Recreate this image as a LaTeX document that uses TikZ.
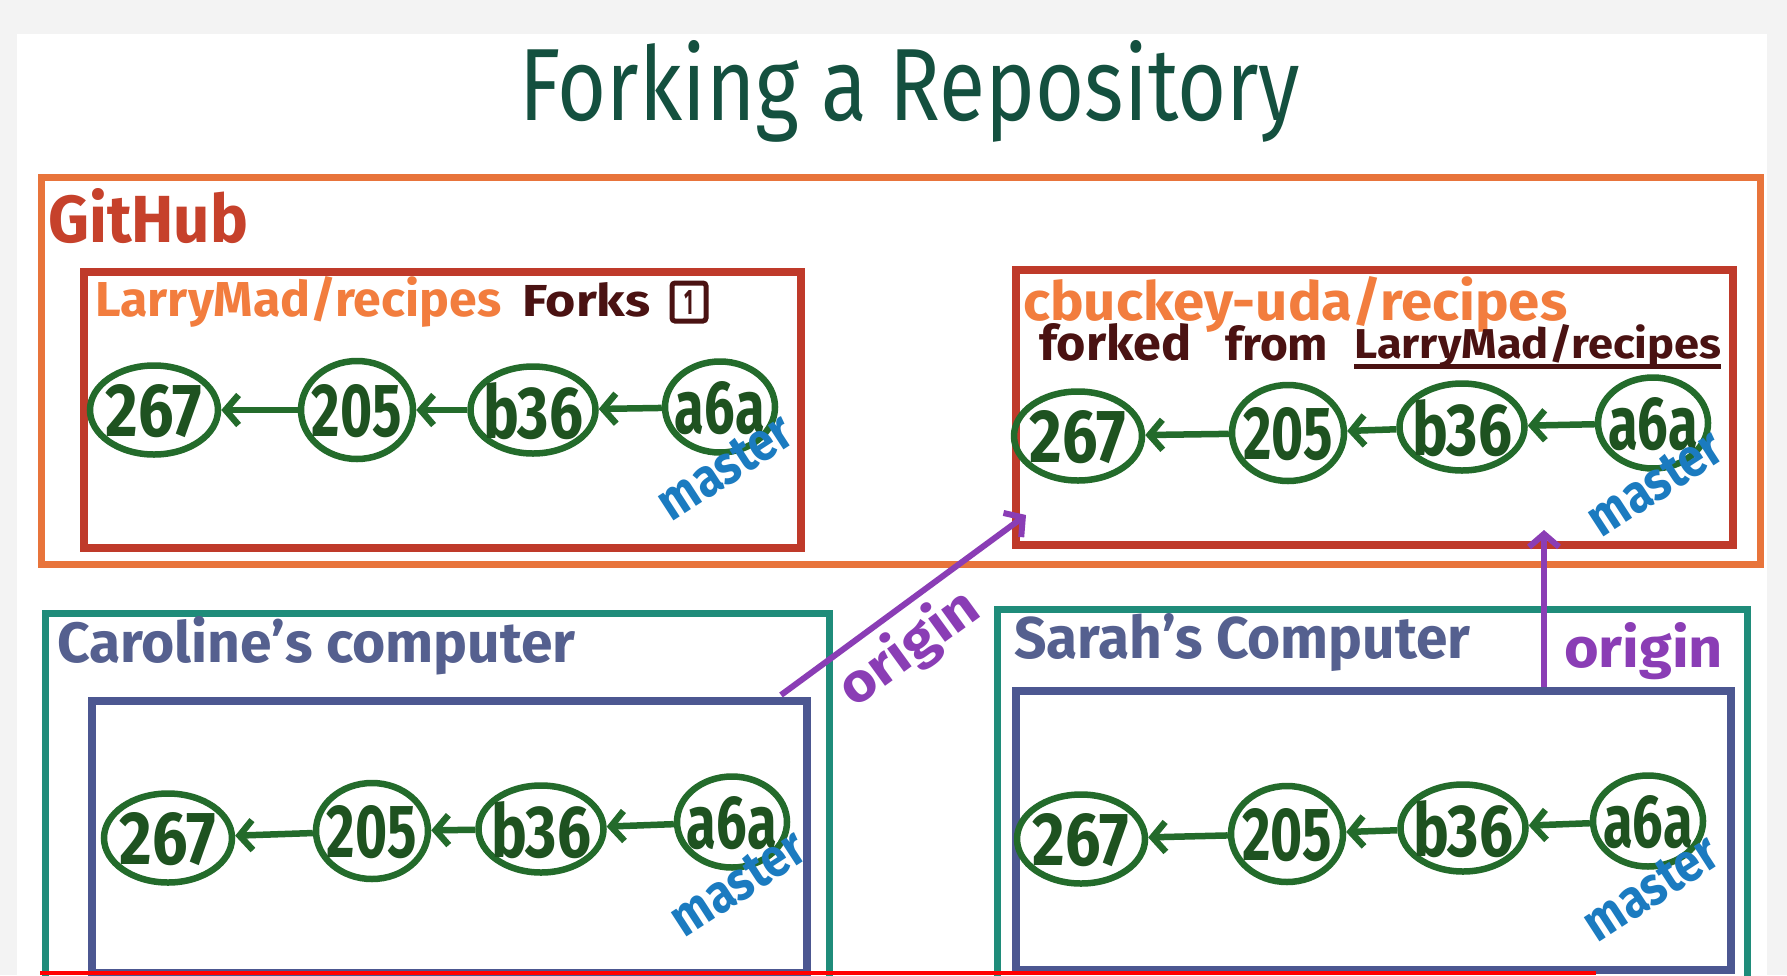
\documentclass[tikz,border=0pt]{standalone}
\usepackage{fontspec}
\setmainfont{Fira Sans}
\usetikzlibrary{shapes.geometric,arrows.meta,calc}
\definecolor{bggray}{HTML}{F3F3F3}
\definecolor{titlecol}{HTML}{14503F}
\definecolor{ghorange}{HTML}{E8743B}
\definecolor{ghtext}{HTML}{C6412B}
\definecolor{repored}{HTML}{BF3A2A}
\definecolor{repotext}{HTML}{F27D3E}
\definecolor{maroon}{HTML}{4A1212}
\definecolor{pcteal}{HTML}{1F8C7A}
\definecolor{slate}{HTML}{4C5791}
\definecolor{slatetext}{HTML}{55608F}
\definecolor{commitgreen}{HTML}{236B2B}
\definecolor{committext}{HTML}{1E5220}
\definecolor{masterblue}{HTML}{1B7BC0}
\definecolor{originpurple}{HTML}{8A3DB5}
\newcommand\fitbox[3]{\resizebox{#1}{#2}{#3}}
\newcommand\ctext[3]{\makebox[0pt]{\smash{\raisebox{-0.5\height}{\resizebox{#1}{#2}{#3}}}}}
\begin{document}
\begin{tikzpicture}[x=1pt,y=-1pt,
  ghbox/.style={draw=ghorange, line width=7pt, inner sep=0pt, anchor=north west},
  repobox/.style={draw=repored, line width=8pt, inner sep=0pt, anchor=north west},
  pcbox/.style={draw=pcteal, line width=7pt, inner sep=0pt, anchor=north west},
  localbox/.style={draw=slate, line width=8pt, inner sep=0pt, anchor=north west},
  lbl/.style={inner sep=0pt, anchor=base west, font=\bfseries},
  commit/.style={ellipse, draw=commitgreen, line width=6.5pt, inner sep=0pt, text=committext, font=\bfseries},
  parent/.style={draw=commitgreen, line width=6.5pt, -{Straight Barb[length=13pt,width=30pt]}},
  masterlbl/.style={inner sep=0pt, text=masterblue, font=\bfseries, rotate=33},
  originarrow/.style={draw=originpurple, line width=6pt, -{Straight Barb[length=13pt,width=30pt]}},
  originlbl/.style={inner sep=0pt, text=originpurple, font=\bfseries}
]
\useasboundingbox (0,0) rectangle (1787,975);
\clip (0,0) rectangle (1787,975);
\fill[bggray] (0,0) rectangle (1787,975);
\fill[white] (17,34) rectangle (1767,975);

% title
\node[inner sep=0pt, anchor=base west, text=titlecol] (title) at (519,120) {\fitbox{781pt}{80pt}{Forking a Repository}};

% GitHub
\node[ghbox, minimum width=1719pt, minimum height=387pt] (github) at (38,174) {};
\node[lbl, text=ghtext] (ghlabel) at (48,242) {\fitbox{200pt}{54pt}{GitHub}};

% LarryMad repo
\node[repobox, minimum width=717pt, minimum height=276pt] (larry) at (80,268) {};
\node[lbl, text=repotext] (larrylabel) at (95,316) {\fitbox{406pt}{40pt}{LarryMad/recipes}};
\node[lbl, text=maroon] (forks) at (522,316) {\fitbox{128pt}{34pt}{Forks}};
\node[draw=maroon, line width=5pt, rounded corners=3pt, minimum width=34pt, minimum height=38pt, inner sep=0pt, text=maroon, font=\bfseries] (forkcount) at (689,302) {\ctext{9pt}{24pt}{1}};

\node[commit, minimum width=128pt, minimum height=89pt] (l267) at (154,410) {\ctext{96pt}{52pt}{267}};
\node[commit, minimum width=112pt, minimum height=98pt] (l205) at (357,410) {\ctext{90pt}{52pt}{205}};
\node[commit, minimum width=125pt, minimum height=87pt] (lb36) at (533,410) {\ctext{100pt}{56pt}{b36}};
\node[commit, minimum width=110pt, minimum height=91pt] (la6a) at (720,407) {\ctext{90pt}{52pt}{a6a}};
\draw[parent] (la6a) -- (lb36);
\draw[parent] (lb36) -- (l205);
\draw[parent] (l205) -- (l267);
\node[masterlbl] (lmaster) at (725,467) {\fitbox{150pt}{36pt}{master}};

% cbuckey repo
\node[repobox, minimum width=717pt, minimum height=275pt] (cbuckey) at (1012,266) {};
\node[lbl, text=repotext] (cblabel) at (1023,320) {\fitbox{544pt}{44pt}{cbuckey-uda/recipes}};
\node[lbl, text=maroon] (forked) at (1039,360) {\fitbox{152pt}{37pt}{forked}};
\node[lbl, text=maroon] (from) at (1225,360) {\fitbox{103pt}{35pt}{from}};
\node[lbl, text=maroon] (larrylink) at (1354,358) {\fitbox{367pt}{34pt}{LarryMad/recipes}};
\draw[maroon, line width=5pt] (larrylink.base west) ++(0,8) -- ($(larrylink.base east)+(0,8)$);

\node[commit, minimum width=128pt, minimum height=89pt] (c267) at (1078,436) {\ctext{96pt}{52pt}{267}};
\node[commit, minimum width=112pt, minimum height=96pt] (c205) at (1288,433) {\ctext{90pt}{52pt}{205}};
\node[commit, minimum width=125pt, minimum height=87pt] (cb36) at (1462,427) {\ctext{100pt}{56pt}{b36}};
\node[commit, minimum width=110pt, minimum height=91pt] (ca6a) at (1653,423) {\ctext{90pt}{52pt}{a6a}};
\draw[parent] (ca6a) -- (cb36);
\draw[parent] (cb36) -- (c205);
\draw[parent] (c205) -- (c267);
\node[masterlbl] (cmaster) at (1655,483) {\fitbox{150pt}{36pt}{master}};

% Caroline's computer
\node[pcbox, minimum width=784pt, minimum height=420pt] (caroline) at (42,610) {};
\node[lbl, text=slatetext] (carlabel) at (57,662) {\fitbox{518pt}{46pt}{Caroline's computer}};
\node[localbox, minimum width=715pt, minimum height=272pt] (carlocal) at (88,697) {};
\node[commit, minimum width=128pt, minimum height=89pt] (k267) at (168,838) {\ctext{96pt}{52pt}{267}};
\node[commit, minimum width=112pt, minimum height=96pt] (k205) at (372,831) {\ctext{90pt}{52pt}{205}};
\node[commit, minimum width=125pt, minimum height=87pt] (kb36) at (541,829) {\ctext{100pt}{56pt}{b36}};
\node[commit, minimum width=110pt, minimum height=91pt] (ka6a) at (732,822) {\ctext{90pt}{52pt}{a6a}};
\draw[parent] (ka6a) -- (kb36);
\draw[parent] (kb36) -- (k205);
\draw[parent] (k205) -- (k267);
\node[masterlbl] (kmaster) at (738,883) {\fitbox{150pt}{36pt}{master}};

% Sarah's computer
\node[pcbox, minimum width=750pt, minimum height=420pt] (sarah) at (994,606) {};
\node[lbl, text=slatetext] (sarlabel) at (1014,658) {\fitbox{456pt}{45pt}{Sarah's Computer}};
\node[localbox, minimum width=715pt, minimum height=279pt] (sarlocal) at (1012,687) {};
\node[commit, minimum width=128pt, minimum height=89pt] (s267) at (1081,839) {\ctext{96pt}{52pt}{267}};
\node[commit, minimum width=112pt, minimum height=96pt] (s205) at (1287,834) {\ctext{90pt}{52pt}{205}};
\node[commit, minimum width=125pt, minimum height=87pt] (sb36) at (1463,828) {\ctext{100pt}{56pt}{b36}};
\node[commit, minimum width=110pt, minimum height=91pt] (sa6a) at (1648,821) {\ctext{90pt}{52pt}{a6a}};
\draw[parent] (sa6a) -- (sb36);
\draw[parent] (sb36) -- (s205);
\draw[parent] (s205) -- (s267);
\node[masterlbl] (smaster) at (1651,888) {\fitbox{150pt}{36pt}{master}};

% origin remotes
\coordinate (o1start) at (781,695);
\coordinate (o1end) at (1026,515);
\draw[originarrow] (o1start) -- (o1end);
\node[originlbl, rotate=36] (o1label) at (906,644) {\ctext{160pt}{44pt}{origin}};
\coordinate (o2start) at (1544,687);
\coordinate (o2end) at (1544,530);
\draw[originarrow] (o2start) -- (o2end);
\node[originlbl, anchor=base west] (o2label) at (1564,667) {\fitbox{159pt}{45pt}{origin}};

% video progress bar
\fill[red] (40,971) rectangle (1596,975);
\end{tikzpicture}
\end{document}
